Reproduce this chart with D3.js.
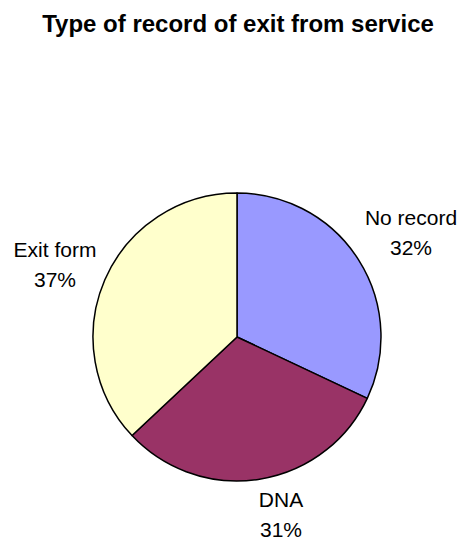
<!DOCTYPE html>
<html>
<head>
<meta charset="utf-8">
<script src="https://cdn.jsdelivr.net/npm/d3@7"></script>
<style>
  html, body { margin: 0; padding: 0; background: #fff; }
  svg { display: block; }
  text { font-family: "Liberation Sans", Arial, sans-serif; fill: #000; }
</style>
</head>
<body>
<svg id="chart" width="462" height="541"></svg>
<script>
const title = "Type of record of exit from service";
const categories = ["No record", "DNA", "Exit form"];
const values = [32, 31, 37];
const colors = ["#9999FF", "#993366", "#FFFFCC"];
// label anchor offsets (relative to pie centre)
const labelOffsets = [[174, -105], [44, 177], [-182, -73]];

const svg = d3.select("#chart");
const cx = 237, cy = 337, r = 144;

svg.append("text")
  .attr("x", 238).attr("y", 32)
  .attr("text-anchor", "middle")
  .style("font-size", "24px").style("font-weight", "bold")
  .text(title);

const data = categories.map((c, i) => ({ label: c, value: values[i], color: colors[i], off: labelOffsets[i] }));
const pie = d3.pie().value(d => d.value).sort(null);
const arc = d3.arc().innerRadius(0).outerRadius(r);
const arcs = pie(data);

const g = svg.append("g").attr("transform", `translate(${cx},${cy})`);
g.selectAll("path").data(arcs).join("path")
  .attr("d", arc)
  .attr("fill", d => d.data.color)
  .attr("stroke", "#000")
  .attr("stroke-width", 1.5)
  .attr("stroke-linejoin", "round");

const lab = g.selectAll("g.lab").data(arcs).join("g").attr("class", "lab")
  .attr("transform", d => `translate(${d.data.off[0]},${d.data.off[1]})`);
lab.append("text").attr("text-anchor", "middle").attr("y", -7)
  .style("font-size", "21px")
  .text(d => d.data.label);
lab.append("text").attr("text-anchor", "middle").attr("y", 23)
  .style("font-size", "21px")
  .text(d => d.data.value + "%");
</script>
</body>
</html>
